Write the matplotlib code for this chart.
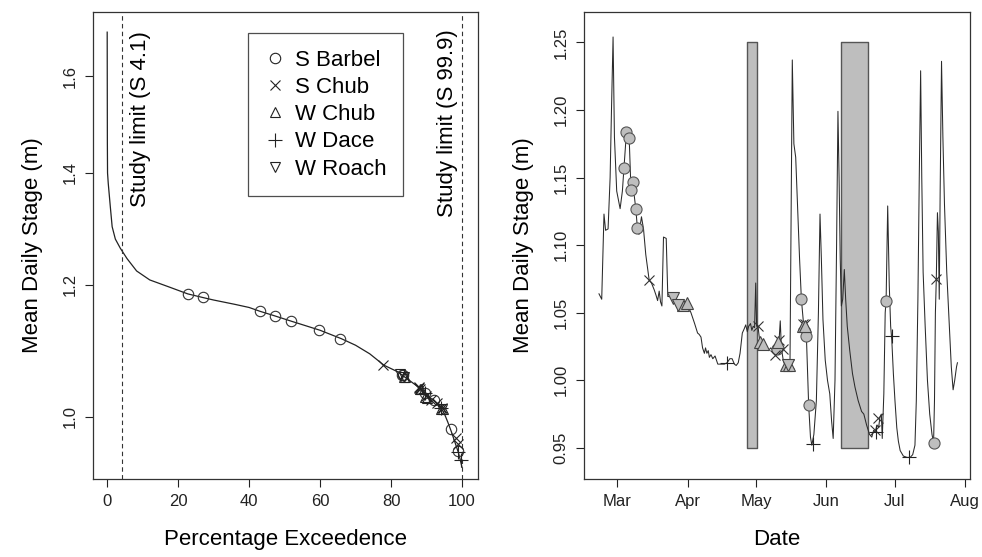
import numpy as np
import pandas as pd
import matplotlib
matplotlib.use("Agg")
import matplotlib.pyplot as plt
import matplotlib.dates as mdates
from matplotlib.lines import Line2D

plt.rcParams['font.family'] = ['Liberation Sans', 'DejaVu Sans']

# ---- left panel: stage duration curve ----
fdc_pct = [0.0, 0.05, 0.1, 0.3, 0.9, 1.4, 2.3, 3.7, 5.6, 8.3, 12, 17.6, 22.7, 27, 30, 36, 40,
           43, 47, 52, 56, 60, 66, 70, 74, 78, 82, 83.5, 87.5, 90, 92, 94, 95, 96, 97, 98,
           99, 99.5, 100]
fdc_stage = [1.70, 1.46, 1.40, 1.38, 1.335, 1.30, 1.278, 1.262, 1.244, 1.223, 1.208, 1.196,
             1.185, 1.179, 1.175, 1.168, 1.163, 1.157, 1.150, 1.141, 1.134, 1.127, 1.114,
             1.104, 1.091, 1.074, 1.064, 1.058, 1.043, 1.031, 1.023, 1.013, 1.005, 0.993,
             0.980, 0.966, 0.952, 0.943, 0.933]

# fish records placed on the duration curve (percent exceedence, stage)
sb_pct = [22.7, 26.9, 43.1, 47.4, 51.9, 59.7, 65.7, 83.0, 83.3, 89.7, 92.0, 96.8, 99.0]
sb_stage = [1.185, 1.180, 1.157, 1.149, 1.141, 1.127, 1.114, 1.060, 1.059, 1.033, 1.023, 0.983, 0.954]
sc_pct = [77.8, 87.8, 88.3, 89.8, 91.2, 92.9, 94.3, 98.4, 98.9, 88.0]
sc_stage = [1.074, 1.042, 1.040, 1.030, 1.023, 1.019, 1.012, 0.972, 0.963, 1.041]
wc_pct = [83.8, 84.0, 89.6, 90.2, 94.2, 94.6, 88.3, 88.5]
wc_stage = [1.057, 1.056, 1.028, 1.027, 1.011, 1.011, 1.040, 1.040]
wd_pct = [94.0, 98.9, 89.6, 99.6]
wd_stage = [1.013, 0.953, 1.033, 0.943]
wr_pct = [82.5, 83.8, 94.4]
wr_stage = [1.061, 1.056, 1.011]

# ---- right panel: stage hydrograph (days after 1 March) ----
hyd_day = [-8.1, -6.9, -5.9, -5.2, -4.1, -3.2, -2.6, -1.9, -1.3, -0.3, 1.2, 2.2, 2.9, 4.0, 5.2,
           5.9, 6.9, 8.1, 8.8, 9.5, 10.6, 11.5, 12.5, 14.0, 15.0, 16.2, 17.0, 17.7, 18.4, 19.0,
           19.6, 20.3, 21.5, 22.2, 23.0, 24.3, 25.5, 26.8, 28.0, 29.0, 30.6, 32.4, 34.0, 35.3,
           36.0, 36.8, 37.5, 38.3, 38.8, 39.4, 40.0, 40.5, 41.2, 42.0, 43.0, 44.2, 46.0, 47.1,
           48.3, 49.5, 50.5, 51.5, 52.3, 53.2, 54.0, 55.0, 55.8, 56.5, 57.2, 57.8, 58.6, 59.2,
           59.8, 60.4, 60.9, 61.3, 61.9, 62.6, 63.5, 64.5, 65.5, 66.5, 67.5, 68.5, 69.3, 70.3,
           71.2, 71.7, 72.2, 73.0, 73.8, 74.8, 75.5, 76.0, 77.0, 77.7, 78.5, 79.3, 80.2, 81.0,
           82.0, 83.2, 84.2, 85.0, 85.6, 86.5, 87.6, 88.5, 89.2, 89.8, 90.5, 91.5, 92.5, 93.5,
           94.3, 95.0, 95.8, 96.5, 97.1, 97.6, 98.1, 98.6, 99.2, 99.9, 100.5, 101.2, 102.3,
           103.5, 104.6, 106.0, 107.5, 108.5, 109.7, 111.0, 112.0, 112.8, 113.5, 114.3, 115.0,
           115.6, 116.2, 116.6, 117.3, 117.9, 118.3, 119.0, 119.7, 120.3, 120.8, 121.5, 122.2,
           123.0, 123.7, 124.5, 125.9, 127.5, 128.9, 130.0, 131.0, 131.6, 132.3, 132.9, 133.5,
           134.0, 134.6, 135.5, 136.5, 137.5, 138.5, 139.2, 139.6, 140.0, 140.4, 140.9, 141.3,
           141.7, 142.1, 142.7, 143.3, 144.0, 145.0, 146.0, 147.0, 147.8, 148.5, 149.3, 149.7]
hyd_val = [1.064, 1.060, 1.123, 1.111, 1.112, 1.150, 1.200, 1.254, 1.180, 1.140, 1.127, 1.140,
           1.157, 1.184, 1.179, 1.145, 1.144, 1.127, 1.113, 1.108, 1.121, 1.112, 1.093, 1.074,
           1.072, 1.067, 1.063, 1.059, 1.066, 1.058, 1.055, 1.106, 1.105, 1.062, 1.062, 1.061,
           1.058, 1.055, 1.055, 1.057, 1.057, 1.050, 1.042, 1.035, 1.034, 1.032, 1.024, 1.020,
           1.024, 1.020, 1.022, 1.017, 1.019, 1.016, 1.018, 1.012, 1.012, 1.012, 1.013, 1.016,
           1.016, 1.012, 1.011, 1.013, 1.020, 1.035, 1.038, 1.041, 1.036, 1.040, 1.042, 1.037,
           1.040, 1.039, 1.072, 1.040, 1.040, 1.030, 1.028, 1.025, 1.023, 1.022, 1.024, 1.022,
           1.024, 1.027, 1.030, 1.044, 1.024, 1.015, 1.011, 1.011, 1.012, 1.015, 1.237, 1.175,
           1.165, 1.130, 1.090, 1.060, 1.041, 1.033, 0.982, 0.958, 0.952, 0.960, 0.985, 1.050,
           1.123, 1.090, 1.045, 1.015, 1.000, 0.990, 0.970, 0.957, 1.000, 1.100, 1.199, 1.150,
           1.090, 1.055, 1.060, 1.082, 1.060, 1.040, 1.022, 1.005, 0.995, 0.985, 0.977, 0.975,
           0.967, 0.960, 0.958, 0.963, 0.962, 0.967, 0.965, 0.973, 0.975, 0.957, 0.990, 1.050,
           1.059, 1.129, 1.070, 1.040, 1.030, 1.005, 0.985, 0.965, 0.955, 0.948, 0.944, 0.943,
           0.943, 0.945, 0.952, 0.985, 1.060, 1.150, 1.229, 1.150, 1.080, 1.040, 1.000, 0.975,
           0.960, 0.954, 0.985, 1.050, 1.075, 1.124, 1.110, 1.060, 1.140, 1.236, 1.180, 1.130,
           1.080, 1.045, 1.010, 0.993, 1.000, 1.010, 1.013]

# fish records in time (days after 1 March, stage)
sb_day = [2.9, 4.0, 5.2, 6.9, 5.9, 8.1, 8.8, 70.3, 81.0, 83.2, 84.2, 118.3, 139.2]
sb_val = [1.157, 1.184, 1.179, 1.147, 1.141, 1.127, 1.113, 1.023, 1.060, 1.033, 0.982, 1.059, 0.954]
sc_day = [14.0, 61.9, 69.2, 71.0, 72.9, 75.4, 81.8, 82.6, 113.4, 114.9, 140.3]
sc_val = [1.074, 1.040, 1.019, 1.030, 1.023, 1.012, 1.042, 1.042, 0.963, 0.972, 1.075]
wc_day = [28.9, 30.6, 63.0, 64.0, 70.7, 74.4, 75.4, 81.7, 82.8]
wc_val = [1.056, 1.057, 1.028, 1.027, 1.028, 1.011, 1.011, 1.040, 1.040]
wd_day = [48.3, 86.2, 120.8, 128.4, 114.0]
wd_val = [1.013, 0.953, 1.033, 0.943, 0.962]
wr_day = [24.3, 26.8, 75.0]
wr_val = [1.061, 1.056, 1.011]

# periods without data (days after 1 March)
gap_start = [57.1, 98.4]
gap_end = [61.4, 110.5]

base = pd.Timestamp("2011-03-01")


def to_date(days):
    return base + pd.to_timedelta(np.asarray(days, dtype=float), unit="D")


fig = plt.figure(figsize=(9.82, 5.57), dpi=100)
ax1 = fig.add_axes([0.0947, 0.140, 0.392, 0.8385])
ax2 = fig.add_axes([0.5947, 0.140, 0.393, 0.8385])

lw_m = 0.8
# left panel
ax1.plot(fdc_pct, fdc_stage, color="#222222", lw=0.9, zorder=2)
ax1.plot(sb_pct, sb_stage, ls="none", marker="o", ms=7.5, mfc="none", mec="#333333", mew=lw_m, zorder=3)
ax1.plot(sc_pct, sc_stage, ls="none", marker="x", ms=7.5, color="#222222", mew=lw_m, zorder=3)
ax1.plot(wc_pct, wc_stage, ls="none", marker="^", ms=7.5, mfc="none", mec="#222222", mew=lw_m, zorder=3)
ax1.plot(wd_pct, wd_stage, ls="none", marker="+", ms=10, color="#222222", mew=lw_m, zorder=3)
ax1.plot(wr_pct, wr_stage, ls="none", marker="v", ms=7.5, mfc="none", mec="#222222", mew=lw_m, zorder=3)
ax1.axvline(4.1, color="#333333", ls=(0, (4, 3)), lw=0.8)
ax1.axvline(99.9, color="#333333", ls=(0, (4, 3)), lw=0.8)

ax1.set_yscale("log")
ax1.set_xlim(-4, 104.5)
ax1.set_ylim(0.918, 1.748)
ax1.set_xticks([0, 20, 40, 60, 80, 100])
ax1.set_yticks([1.0, 1.2, 1.4, 1.6])
ax1.set_yticklabels(["1.0", "1.2", "1.4", "1.6"])
ax1.yaxis.set_minor_locator(matplotlib.ticker.NullLocator())
ax1.set_xlabel("Percentage Exceedence", fontsize=16, labelpad=14)
ax1.set_ylabel("Mean Daily Stage (m)", fontsize=16, labelpad=14)

tr = matplotlib.transforms.blended_transform_factory(ax1.transData, ax1.transAxes)
ax1.text(9.4, 0.958, "Study limit (S 4.1)", rotation=90, ha="center", va="top",
         fontsize=16, transform=tr)
ax1.text(95.8, 0.962, "Study limit (S 99.9)", rotation=90, ha="center", va="top",
         fontsize=16, transform=tr)

handles = [
    Line2D([], [], ls="none", marker="o", ms=7.5, mfc="none", mec="#222222", mew=lw_m),
    Line2D([], [], ls="none", marker="x", ms=7.5, color="#222222", mew=lw_m),
    Line2D([], [], ls="none", marker="^", ms=7.5, mfc="none", mec="#222222", mew=lw_m),
    Line2D([], [], ls="none", marker="+", ms=10, color="#222222", mew=lw_m),
    Line2D([], [], ls="none", marker="v", ms=7.5, mfc="none", mec="#222222", mew=lw_m),
]
leg = ax1.legend(handles, ["S Barbel", "S Chub", "W Chub", "W Dace", "W Roach"],
                 loc="upper left", bbox_to_anchor=(0.403, 0.955), fontsize=16,
                 frameon=True, fancybox=False, borderpad=0.75, labelspacing=0.28,
                 handletextpad=0.45, handlelength=0.9, borderaxespad=0)
leg.get_frame().set_edgecolor("#222222")
leg.get_frame().set_linewidth(0.9)

# right panel
for s, e in zip(gap_start, gap_end):
    ax2.fill_between(to_date([s, e]), 0.95, 1.25, facecolor="#BEBEBE",
                     edgecolor="#555555", lw=1.0, zorder=1)
ax2.plot(to_date(hyd_day), hyd_val, color="#2a2a2a", lw=0.75, zorder=2)
ax2.plot(to_date(sb_day), sb_val, ls="none", marker="o", ms=8, mfc="#BEBEBE", mec="#555555", mew=lw_m, zorder=3)
ax2.plot(to_date(sc_day), sc_val, ls="none", marker="x", ms=7.5, color="#333333", mew=lw_m, zorder=3)
ax2.plot(to_date(wc_day), wc_val, ls="none", marker="^", ms=8, mfc="#BEBEBE", mec="#444444", mew=lw_m, zorder=3)
ax2.plot(to_date(wd_day), wd_val, ls="none", marker="+", ms=10, color="#222222", mew=lw_m, zorder=3)
ax2.plot(to_date(wr_day), wr_val, ls="none", marker="v", ms=8, mfc="#BEBEBE", mec="#444444", mew=lw_m, zorder=3)

ax2.set_xlim(to_date([-14.7])[0], to_date([155.2])[0])
ax2.set_ylim(0.927, 1.2725)
ax2.set_yticks([0.95, 1.00, 1.05, 1.10, 1.15, 1.20, 1.25])
ax2.set_yticklabels(["0.95", "1.00", "1.05", "1.10", "1.15", "1.20", "1.25"])
ax2.xaxis.set_major_locator(mdates.MonthLocator())
ax2.xaxis.set_major_formatter(mdates.DateFormatter("%b"))
ax2.set_xlabel("Date", fontsize=16, labelpad=14)
ax2.set_ylabel("Mean Daily Stage (m)", fontsize=16, labelpad=14)

for ax in (ax1, ax2):
    ax.tick_params(axis="both", direction="out", length=6, width=0.8, labelsize=12,
                   colors="#222222", pad=5)
    for lab in ax.get_yticklabels():
        lab.set_rotation(90)
        lab.set_va("center")
    for sp in ax.spines.values():
        sp.set_color("#333333")
        sp.set_linewidth(0.9)

fig.savefig("out.png", dpi=100)
